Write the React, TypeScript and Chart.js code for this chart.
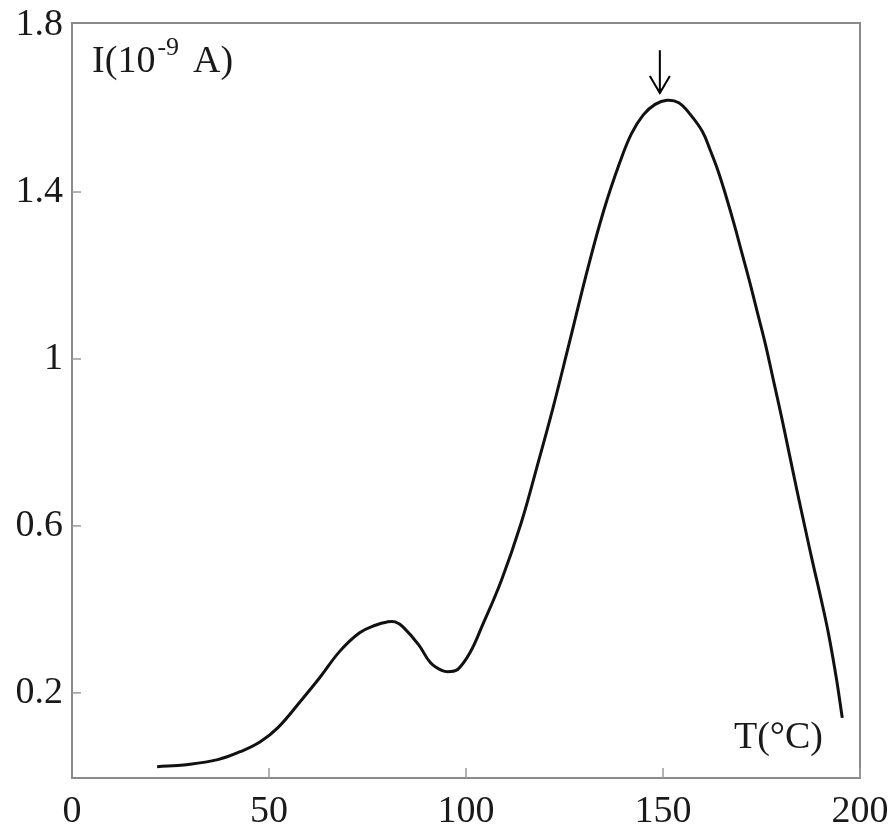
import React, { useEffect, useRef } from "react";
import { Chart, registerables } from "chart.js";

Chart.register(...registerables);

// Temperature (°C)
const temperature = [21.6, 29, 37, 42.7, 47.8, 52.2, 58, 63, 68, 73, 77, 80, 82, 84, 88, 91, 94, 96, 98, 101, 104, 109, 114, 118, 122, 126, 131, 135, 139, 142, 145, 148, 151, 154, 157, 160, 162, 164, 166, 168, 170, 172, 174, 176, 178, 180, 182, 184, 186, 188, 190, 192, 194, 195.5];
// Current I (10^-9 A)
const current = [0.023, 0.028, 0.04, 0.059, 0.083, 0.116, 0.18, 0.238, 0.3, 0.344, 0.362, 0.37, 0.37, 0.358, 0.315, 0.272, 0.253, 0.251, 0.257, 0.296, 0.358, 0.47, 0.607, 0.741, 0.88, 1.03, 1.22, 1.357, 1.47, 1.54, 1.585, 1.61, 1.62, 1.614, 1.585, 1.545, 1.5, 1.45, 1.39, 1.325, 1.255, 1.185, 1.11, 1.035, 0.95, 0.865, 0.775, 0.685, 0.598, 0.512, 0.43, 0.342, 0.235, 0.14];

const xTicks = [0, 50, 100, 150, 200];
const yTicks = [0.2, 0.6, 1, 1.4, 1.8];

// annotation anchors (data coordinates)
const arrowX = 149.2;
const arrowTop = 1.74;
const arrowTip = 1.637;
const yLabelPos = { x: 5.1, y: 1.687 };
const xLabelPos = { x: 168, y: 0.068 };

const FONT = '"Liberation Serif", "Times New Roman", serif';

const framePlugin = {
  id: "frame",
  afterDraw(chart: any) {
    const { ctx, chartArea: a, scales } = chart;
    const xs = scales.x;
    const ys = scales.y;
    ctx.save();
    // frame
    ctx.strokeStyle = "#8a8a8a";
    ctx.lineWidth = 2;
    ctx.strokeRect(a.left, a.top, a.right - a.left, a.bottom - a.top);
    // inner ticks
    ctx.strokeStyle = "#9a9a9a";
    ctx.lineWidth = 1.5;
    yTicks.forEach((v) => {
      if (v >= 1.8) return;
      const py = ys.getPixelForValue(v);
      ctx.beginPath();
      ctx.moveTo(a.left, py);
      ctx.lineTo(a.left + 9, py);
      ctx.stroke();
    });
    xTicks.forEach((v) => {
      if (v <= 0) return;
      const px = xs.getPixelForValue(v);
      ctx.beginPath();
      ctx.moveTo(px, a.bottom);
      ctx.lineTo(px, a.bottom - 10);
      ctx.stroke();
    });
    // arrow
    const ax = xs.getPixelForValue(arrowX);
    const at = ys.getPixelForValue(arrowTop);
    const ab = ys.getPixelForValue(arrowTip);
    ctx.strokeStyle = "#000";
    ctx.lineWidth = 2;
    ctx.beginPath();
    ctx.moveTo(ax, at);
    ctx.lineTo(ax, ab);
    ctx.moveTo(ax - 10, ab - 17);
    ctx.lineTo(ax, ab);
    ctx.lineTo(ax + 10, ab - 17);
    ctx.stroke();
    // text labels
    ctx.fillStyle = "#1a1a1a";
    ctx.textBaseline = "alphabetic";
    ctx.textAlign = "left";
    let tx = xs.getPixelForValue(yLabelPos.x);
    const ty = ys.getPixelForValue(yLabelPos.y);
    ctx.font = `38px ${FONT}`;
    ctx.fillText("I(10", tx, ty);
    tx += ctx.measureText("I(10").width + 2;
    ctx.font = `26px ${FONT}`;
    ctx.fillText("-9", tx, ty - 17);
    tx += ctx.measureText("-9").width + 14;
    ctx.font = `38px ${FONT}`;
    ctx.fillText("A)", tx, ty);
    ctx.font = `38px ${FONT}`;
    ctx.fillText("T(°C)", xs.getPixelForValue(xLabelPos.x), ys.getPixelForValue(xLabelPos.y));
    ctx.restore();
  },
};

export default function App() {
  const ref = useRef<HTMLCanvasElement | null>(null);
  useEffect(() => {
    if (!ref.current) return;
    const chart = new Chart(ref.current, {
      type: "line",
      data: {
        datasets: [
          {
            data: temperature.map((t, i) => ({ x: t, y: current[i] })),
            borderColor: "#111",
            borderWidth: 3,
            pointRadius: 0,
            tension: 0.4,
            fill: false,
          },
        ],
      },
      options: {
        responsive: false,
        animation: false,
        layout: { padding: { left: 0, top: 23, right: 33, bottom: 0 } },
        plugins: { legend: { display: false }, tooltip: { enabled: false } },
        scales: {
          x: {
            type: "linear",
            min: 0,
            max: 200,
            grid: { display: false, drawTicks: false },
            border: { display: false },
            afterBuildTicks: (s: any) => {
              s.ticks = xTicks.map((v) => ({ value: v }));
            },
            afterFit: (s: any) => {
              s.height = 47;
              s.paddingLeft = 0;
              s.paddingRight = 0;
            },
            ticks: {
              padding: 11,
              maxRotation: 0,
              color: "#1a1a1a",
              font: { family: FONT, size: 38 },
              callback: (v: any) => String(v),
            },
          },
          y: {
            type: "linear",
            min: -0.004,
            max: 1.805,
            grid: { display: false, drawTicks: false },
            border: { display: false },
            afterBuildTicks: (s: any) => {
              s.ticks = yTicks.map((v) => ({ value: v }));
            },
            afterFit: (s: any) => {
              s.width = 72;
              s.paddingTop = 0;
              s.paddingBottom = 0;
            },
            ticks: {
              padding: 9,
              color: "#1a1a1a",
              font: { family: FONT, size: 38 },
              callback: (v: any) => String(Math.round(v * 10) / 10),
            },
          },
        },
      },
      plugins: [framePlugin],
    } as any);
    return () => chart.destroy();
  }, []);
  return (
    <div style={{ position: "fixed", left: 0, top: 0, width: 893, height: 825, background: "#fff" }}>
      <canvas ref={ref} width={893} height={825} style={{ display: "block" }} />
    </div>
  );
}
